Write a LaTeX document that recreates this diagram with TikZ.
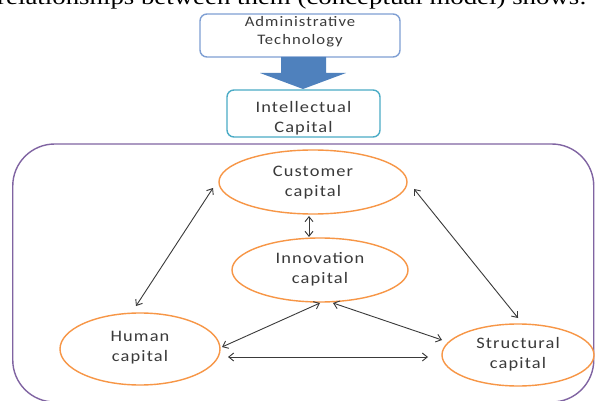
\documentclass[tikz,border=0pt]{standalone}
\usepackage{fontspec}
\setmainfont{Carlito}[FakeStretch=1.15,LetterSpace=7]
\newfontfamily\topserif{Liberation Serif}[FakeStretch=1.22]
\usetikzlibrary{arrows.meta,calc,shapes.geometric}
\definecolor{txtgray}{HTML}{3A3A3A}
\definecolor{orangeE}{HTML}{F79646}
\definecolor{purpleR}{HTML}{8064A2}
\definecolor{blueB}{HTML}{7F9FD3}
\definecolor{tealB}{HTML}{4BACC6}
\definecolor{arrowF}{HTML}{4F81BD}
\tikzset{
  capell/.style={ellipse,draw=orangeE,line width=1.4pt,fill=white,inner sep=0pt},
  celltxt/.style={text=txtgray,align=center,font=\fontsize{16}{20}\selectfont},
  conn/.style={draw=txtgray,line width=0.9pt,{Straight Barb[length=5pt,width=8pt]}-{Straight Barb[length=5pt,width=8pt]}},
  adminbox/.style={draw=blueB,line width=1.4pt,rounded corners=7pt,fill=white,minimum width=200pt,minimum height=43pt,inner sep=0pt},
  icbox/.style={draw=tealB,line width=1.4pt,rounded corners=7pt,fill=white,minimum width=153pt,minimum height=47pt,inner sep=0pt},
}
\begin{document}
\begin{tikzpicture}[x=1pt,y=-1pt]
\useasboundingbox (0,0) rectangle (595,401);
\fill[white] (0,0) rectangle (595,401);
% cut-off running text at top (cut in the reference as well)
\node[anchor=base west,inner sep=0pt,font=\topserif\fontsize{22}{24}\selectfont] (toptext) at (-3,5) {relationships between them (conceptual model) shows:};
% top boxes
\node[adminbox] (admin) at (300,35.5) {};
\node[celltxt,font=\fontsize{14.5}{18}\selectfont] (admint) at (300,32) {Administrative\\Technology};
\fill[arrowF] (281,57) -- (326,57) -- (326,73) -- (346,73) -- (303,89) -- (260,73) -- (281,73) -- cycle;
\node[icbox] (ic) at (303.5,113.5) {};
\node[celltxt] (ict) at (303.5,118) {Intellectual\\Capital};
% outer frame
\node[draw=purpleR,line width=1.4pt,rounded corners=42pt,minimum width=581pt,minimum height=258pt,inner sep=0pt] (frame) at (303.25,273) {};
% ellipses
\node[capell,minimum width=188pt,minimum height=64pt] (cust) at (313,182) {};
\node[celltxt] (custt) at (313,183) {Customer\\capital};
\node[capell,minimum width=176pt,minimum height=64pt] (inno) at (320,270) {};
\node[celltxt] (innot) at (320,269) {Innovation\\capital};
\node[capell,minimum width=160pt,minimum height=72pt] (hum) at (140,349) {};
\node[celltxt] (humt) at (140,348) {Human\\capital};
\node[capell,minimum width=152pt,minimum height=62pt] (str) at (518,355) {};
\node[celltxt] (strt) at (518,354) {Structural\\capital};
% connectors
\draw[conn] ($(hum)+(-4,-43)$) -- ($(cust)+(-100,6)$);
\draw[conn] ($(cust)+(-4,34)$) -- ($(inno)+(-11,-33)$);
\draw[conn] ($(cust)+(101,7)$) -- ($(str)+(0,-37)$);
\draw[conn] ($(inno)+(0,33)$) -- ($(hum)+(82,-2)$);
\draw[conn] ($(inno)+(13,33)$) -- ($(str)+(-76,-15)$);
\draw[conn] ($(hum)+(88,8)$) -- ($(str)+(-90,2)$);
\end{tikzpicture}
\end{document}
